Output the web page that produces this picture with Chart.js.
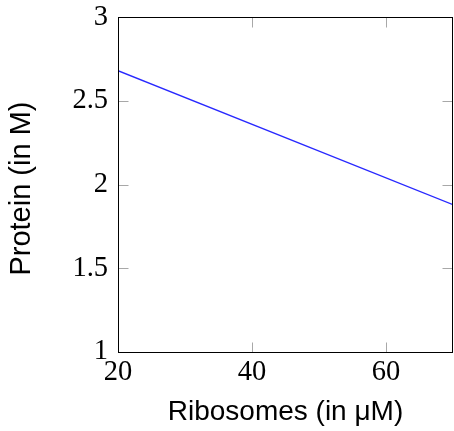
<!DOCTYPE html>
<html>
<head>
<meta charset="utf-8">
<script src="https://cdn.jsdelivr.net/npm/chart.js@4/dist/chart.umd.min.js"></script>
<style>
  html, body { margin: 0; padding: 0; background: #ffffff; }
  #c { display: block; }
</style>
</head>
<body>
<canvas id="c" width="454" height="431"></canvas>
<script>
// Data
const ribosomes = [20, 70];          // x values (µM)
const protein = [2.68, 1.88];        // y values (M)
const xTickValues = [20, 40, 60];
const yTickValues = [1, 1.5, 2, 2.5, 3];
const xTitle = 'Ribosomes (in μM)';
const yTitle = 'Protein (in M) ';

const tickFont = { family: '"Liberation Serif", "Times New Roman", serif', size: 28.5 };
const xTitleFont = { family: '"Liberation Sans", Arial, sans-serif', size: 28 };
const yTitleFont = { family: '"Liberation Sans", Arial, sans-serif', size: 29 };

const frame = {
  id: 'frame',
  afterDatasetsDraw(chart) {
    const { ctx, chartArea: a, scales } = chart;
    const L = Math.round(a.left) + 0.5, R = Math.round(a.right) - 0.5;
    const T = Math.round(a.top) + 0.5, B = Math.round(a.bottom) + 0.5;
    ctx.save();
    ctx.strokeStyle = '#a8a8a8';
    ctx.lineWidth = 1;
    const len = 10;
    ctx.beginPath();
    xTickValues.forEach(v => {
      const px = Math.round(scales.x.getPixelForValue(v)) + 0.5;
      ctx.moveTo(px, B); ctx.lineTo(px, B - len);
      ctx.moveTo(px, T); ctx.lineTo(px, T + len);
    });
    yTickValues.forEach(v => {
      const py = Math.round(scales.y.getPixelForValue(v)) + 0.5;
      ctx.moveTo(L, py); ctx.lineTo(L + len, py);
      ctx.moveTo(R, py); ctx.lineTo(R - len, py);
    });
    ctx.stroke();
    ctx.strokeStyle = '#000000';
    ctx.lineWidth = 1;
    ctx.strokeRect(L, T, R - L, B - T);
    ctx.restore();
  }
};

new Chart(document.getElementById('c'), {
  type: 'line',
  data: {
    datasets: [{
      data: ribosomes.map((x, i) => ({ x, y: protein[i] })),
      borderColor: 'rgb(40,40,255)',
      borderWidth: 1.3,
      pointRadius: 0,
      tension: 0,
      fill: false
    }]
  },
  options: {
    responsive: false,
    devicePixelRatio: 1,
    animation: false,
    layout: { padding: { left: 0, right: 1, top: 17, bottom: 0 } },
    plugins: { legend: { display: false }, tooltip: { enabled: false } },
    scales: {
      x: {
        type: 'linear',
        min: 20, max: 70,
        afterBuildTicks(s) { s.ticks = xTickValues.map(v => ({ value: v })); },
        afterFit(s) { s.height = 79; },
        grid: { display: true, drawOnChartArea: false, drawTicks: true, tickLength: 0, color: 'rgba(0,0,0,0)' },
        border: { display: false },
        ticks: { color: '#000', font: tickFont, padding: 3, maxRotation: 0, autoSkip: false,
                 callback: v => String(v) },
        title: { display: true, text: xTitle, color: '#000', font: xTitleFont, padding: { top: 0, bottom: 2 } }
      },
      y: {
        type: 'linear',
        min: 1, max: 3,
        afterBuildTicks(s) { s.ticks = yTickValues.map(v => ({ value: v })); },
        afterFit(s) { s.width = 118; },
        grid: { display: true, drawOnChartArea: false, drawTicks: true, tickLength: 10, color: 'rgba(0,0,0,0)' },
        border: { display: false },
        ticks: { color: '#000', font: tickFont, padding: 0, autoSkip: false,
                 callback: v => String(v) },
        title: { display: true, text: yTitle, color: '#000', font: yTitleFont, padding: { top: 5, bottom: 0 } }
      }
    }
  },
  plugins: [frame]
});
</script>
</body>
</html>
